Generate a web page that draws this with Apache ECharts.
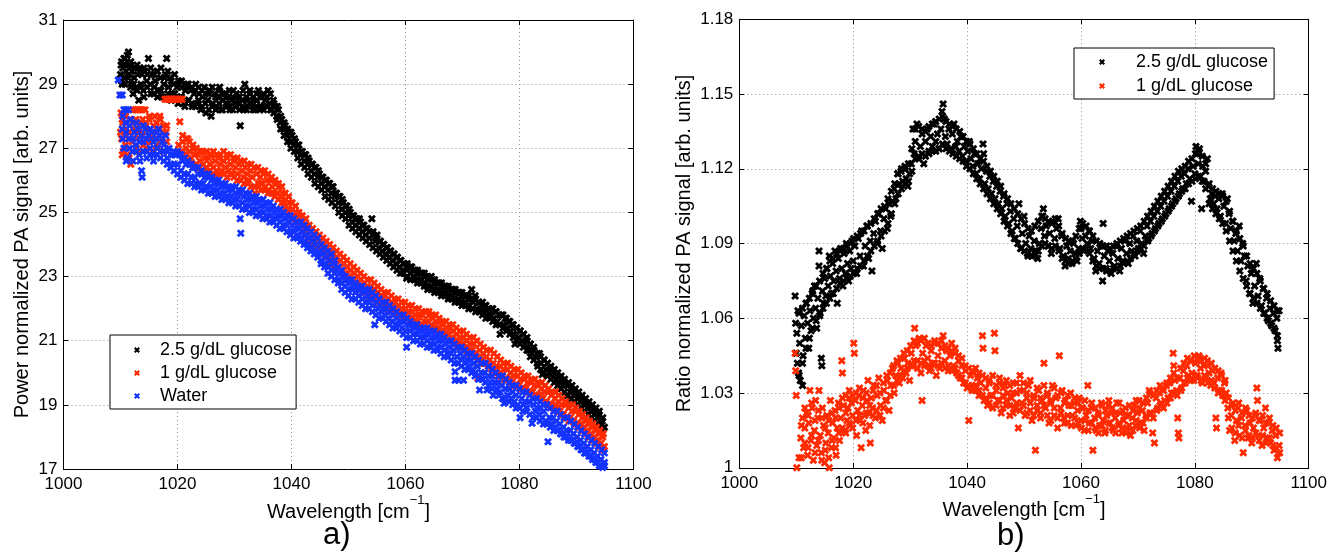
<!DOCTYPE html>
<html>
<head>
<meta charset="utf-8">
<script src="https://cdn.jsdelivr.net/npm/echarts@6/dist/echarts.min.js"></script>
<style>html,body{margin:0;padding:0;background:#fff}#c{width:1330px;height:555px}</style>
</head>
<body>
<div id="c"></div>
<script>
// ---------- data ----------
const seriesNames = ['2.5 g/dL glucose', '1 g/dL glucose', 'Water'];
const xTicksA = [1000, 1020, 1040, 1060, 1080, 1100];
const yTicksA = [17, 19, 21, 23, 25, 27, 29, 31];
const yTicksB = [1, 1.03, 1.06, 1.09, 1.12, 1.15, 1.18];

// panel a) power normalized PA signal, 2.5 g/dL glucose: single readings [x, y]
const powerGlc25 = [[1010.0,29.3],[1010.1,29.6],[1010.3,29.0],[1010.4,29.5],[1010.6,29.8],[1010.7,29.2],[1010.9,29.6],[1011.0,29.4],[1011.2,29.9],[1011.4,30.0],[1011.5,29.3],[1011.7,29.6],[1011.9,29.0],[1012.0,29.4],[1012.2,28.7],[1012.4,29.2],[1012.6,29.5],[1012.8,28.9],[1013.0,29.3],[1013.2,28.5],[1013.4,29.5],[1013.6,29.0],[1013.8,29.3],[1014.0,28.8],[1014.3,29.4],[1014.6,29.1],[1014.9,29.8],[1015.2,29.0],[1015.5,29.3],[1015.8,28.7],[1016.1,29.1],[1016.4,29.4],[1016.7,28.8],[1017.0,29.2],[1017.3,28.6],[1017.6,29.0],[1017.9,29.3],[1018.1,29.8],[1018.4,28.9],[1018.7,29.2],[1019.0,28.7],[1019.3,29.0],[1019.6,28.5],[1019.9,28.9],[1020.2,29.1],[1020.5,28.6],[1020.8,28.9],[1021.1,28.4],[1021.4,28.8],[1021.7,29.0],[1022.0,28.5],[1022.3,28.8],[1022.6,28.3],[1022.9,28.7],[1023.2,29.0],[1023.5,28.4],[1023.8,28.7],[1024.1,28.2],[1024.4,28.6],[1024.7,28.9],[1025.0,28.1],[1025.3,28.5],[1025.6,28.8],[1025.9,28.0],[1026.2,28.4],[1026.5,28.7],[1026.8,28.3],[1027.1,28.6],[1027.4,28.9],[1027.7,28.2],[1028.0,28.5],[1028.3,28.7],[1028.6,28.3],[1028.9,28.6],[1029.2,28.2],[1029.5,28.5],[1029.8,28.8],[1030.1,28.3],[1030.4,28.6],[1030.7,28.4],[1031.0,27.7],[1031.3,28.5],[1031.6,28.2],[1031.8,29.0],[1032.1,28.6],[1032.4,28.3],[1032.7,28.7],[1033.0,28.4],[1033.3,28.6],[1033.6,28.2],[1033.9,28.5],[1034.2,28.8],[1034.5,28.3],[1034.8,28.6],[1035.1,28.2],[1035.4,28.5],[1035.9,28.8],[1036.2,28.4],[1036.5,28.2],[1036.8,28.5],[1037.1,28.3],[1037.4,28.0],[1037.7,28.2],[1038.0,27.8],[1038.3,27.9],[1038.6,27.6],[1038.9,27.7],[1039.2,27.4],[1039.5,27.5],[1039.8,27.2],[1040.1,27.4],[1040.4,27.1],[1040.7,27.2],[1041.0,26.9],[1041.3,27.1],[1041.6,26.8],[1041.9,26.9],[1042.2,26.6],[1042.5,26.8],[1042.8,26.5],[1043.1,26.6],[1043.4,26.3],[1043.7,26.5],[1044.0,26.2],[1044.3,26.4],[1044.6,26.1],[1044.9,26.2],[1045.2,25.9],[1045.5,26.1],[1045.8,25.8],[1046.1,26.0],[1046.4,25.7],[1046.7,25.9],[1047.0,25.6],[1047.3,25.8],[1047.6,25.5],[1047.9,25.6],[1048.2,25.3],[1048.5,25.5],[1048.8,25.1],[1049.1,25.3],[1049.4,25.0],[1049.7,25.2],[1050.0,24.9],[1050.3,25.0],[1050.6,24.7],[1050.9,24.9],[1051.2,24.6],[1051.5,24.8],[1051.8,24.5],[1052.1,24.7],[1052.4,24.4],[1052.7,24.6],[1053.0,24.3],[1053.3,24.5],[1053.6,24.2],[1054.1,24.8],[1054.4,24.3],[1054.7,24.1],[1055.0,24.3],[1055.3,23.9],[1055.6,24.1],[1055.9,23.8],[1056.2,24.0],[1056.5,23.7],[1056.8,23.9],[1057.1,23.6],[1057.4,23.8],[1057.7,23.5],[1058.0,23.7],[1058.3,23.4],[1058.6,23.6],[1058.9,23.3],[1059.2,23.5],[1059.5,23.2],[1059.8,23.4],[1060.2,22.95],[1060.5,23.3],[1060.8,23.1],[1061.1,23.3],[1061.4,23.0],[1061.7,23.2],[1062.0,22.9],[1062.3,23.1],[1062.6,22.9],[1062.9,23.1],[1063.2,22.8],[1063.5,23.0],[1063.8,22.7],[1064.1,22.9],[1064.4,22.7],[1064.7,22.9],[1065.0,22.6],[1065.3,22.8],[1065.6,22.6],[1065.9,22.8],[1066.2,22.5],[1066.5,22.7],[1066.8,22.5],[1067.1,22.7],[1067.4,22.4],[1067.7,22.6],[1068.0,22.4],[1068.3,22.6],[1068.6,22.3],[1068.9,22.5],[1069.2,22.3],[1069.5,22.5],[1069.8,22.2],[1070.1,22.4],[1070.4,22.2],[1070.7,22.4],[1071.0,22.1],[1071.3,22.3],[1071.6,22.6],[1071.9,22.2],[1072.2,22.4],[1072.5,22.0],[1072.8,22.2],[1073.1,21.9],[1073.4,22.1],[1073.7,21.9],[1074.0,22.1],[1074.3,21.8],[1074.6,22.0],[1074.9,21.8],[1075.2,22.0],[1075.5,21.7],[1075.8,21.9],[1076.1,21.6],[1076.6,21.2],[1076.9,21.8],[1077.2,21.5],[1077.5,21.7],[1077.8,21.4],[1078.1,21.6],[1078.4,21.3],[1078.7,21.5],[1079.0,21.2],[1079.2,20.9],[1079.5,21.4],[1079.8,21.1],[1080.1,21.3],[1080.4,21.0],[1080.7,21.2],[1081.0,20.9],[1081.3,21.1],[1081.6,20.7],[1081.9,20.9],[1082.2,20.6],[1082.5,20.8],[1082.8,20.5],[1083.2,20.2],[1083.5,20.6],[1083.8,20.3],[1084.0,19.95],[1084.3,20.4],[1084.6,20.1],[1084.9,20.3],[1085.2,20.0],[1085.5,20.2],[1085.8,19.9],[1086.1,20.1],[1086.4,19.8],[1086.7,20.0],[1087.0,19.7],[1087.3,19.9],[1087.6,19.6],[1087.9,19.8],[1088.3,19.3],[1088.6,19.7],[1088.9,19.4],[1089.2,19.6],[1089.5,19.3],[1089.8,19.5],[1090.1,19.2],[1090.4,19.4],[1090.7,19.1],[1091.0,19.3],[1091.3,19.0],[1091.6,19.2],[1091.9,18.9],[1092.2,19.1],[1092.5,18.8],[1092.8,19.0],[1093.1,18.7],[1093.4,18.9],[1093.7,18.6],[1094.0,18.8],[1094.3,18.4],[1094.6,18.6],[1094.9,18.3]];
// band readings [x, lower, upper] (extra points at the edges of the dense band)
const powerGlc25Band = [[1010.2,29.1,29.7],[1010.8,29.0,29.8],[1011.3,29.2,29.6],[1011.8,28.9,29.7],[1012.3,29.0,29.5],[1012.9,28.8,29.6],[1013.5,28.9,29.4],[1014.1,28.6,29.5],[1014.7,28.9,29.3],[1015.3,28.7,29.5],[1015.9,28.9,29.3],[1016.5,28.6,29.4],[1017.1,28.8,29.5],[1017.7,28.6,29.2],[1018.3,28.7,29.4],[1018.9,28.5,29.1],[1019.5,28.7,29.3],[1020.1,28.4,29.0],[1020.7,28.6,29.1],[1021.3,28.3,28.9],[1021.9,28.5,29.0],[1022.5,28.4,28.9],[1023.1,28.3,28.8],[1023.7,28.5,28.9],[1024.3,28.3,28.8],[1024.9,28.4,28.7],[1025.5,28.2,28.7],[1026.1,28.3,28.9],[1026.7,28.2,28.6],[1027.3,28.4,28.8],[1027.9,28.2,28.7],[1028.5,28.4,28.6],[1029.1,28.3,28.8],[1029.7,28.2,28.6],[1030.3,28.4,28.7],[1030.9,28.2,28.6],[1031.5,28.3,28.8],[1032.1,28.2,28.5],[1032.7,28.4,28.8],[1033.3,28.2,28.5],[1033.9,28.3,28.7],[1034.5,28.2,28.6],[1035.1,28.3,28.7],[1035.7,28.3,28.6],[1036.3,28.2,28.7],[1036.9,28.1,28.4],[1037.5,27.9,28.3],[1038.1,27.6,28.0],[1038.7,27.4,27.8],[1039.3,27.2,27.6],[1039.9,27.0,27.5],[1040.5,26.9,27.3],[1041.1,26.7,27.1],[1041.7,26.5,26.9],[1042.3,26.4,26.8],[1042.9,26.2,26.7],[1043.5,26.1,26.5],[1044.1,25.9,26.4],[1044.7,25.8,26.3],[1045.3,25.7,26.1],[1045.9,25.5,26.0],[1046.5,25.4,25.9],[1047.1,25.3,25.8],[1047.7,25.2,25.6],[1048.3,25.0,25.5],[1048.9,24.9,25.4],[1049.5,24.8,25.2],[1050.1,24.6,25.1],[1050.7,24.5,24.9],[1051.3,24.4,24.8],[1051.9,24.3,24.8],[1052.5,24.2,24.6],[1053.1,24.1,24.5],[1053.7,24.0,24.4],[1054.3,23.9,24.4],[1054.9,23.8,24.2],[1055.5,23.7,24.1],[1056.1,23.6,24.0],[1056.7,23.5,23.9],[1057.3,23.4,23.8],[1057.9,23.3,23.7],[1058.5,23.2,23.6],[1059.1,23.1,23.5],[1059.7,23.1,23.4],[1060.3,23.0,23.4],[1060.9,22.9,23.3],[1061.5,22.9,23.2],[1062.1,22.8,23.2],[1062.7,22.8,23.1],[1063.3,22.7,23.1],[1063.9,22.6,23.0],[1064.5,22.6,23.0],[1065.1,22.5,22.9],[1065.7,22.5,22.8],[1066.3,22.4,22.8],[1066.9,22.4,22.7],[1067.5,22.3,22.7],[1068.1,22.3,22.6],[1068.7,22.2,22.6],[1069.3,22.2,22.5],[1069.9,22.1,22.5],[1070.5,22.1,22.4],[1071.1,22.0,22.4],[1071.7,22.0,22.3],[1072.3,21.9,22.3],[1072.9,21.9,22.2],[1073.5,21.8,22.2],[1074.1,21.7,22.1],[1074.7,21.7,22.0],[1075.3,21.6,22.0],[1075.9,21.5,21.9],[1076.5,21.5,21.8],[1077.1,21.4,21.8],[1077.7,21.3,21.7],[1078.3,21.2,21.6],[1078.9,21.1,21.5],[1079.5,21.0,21.4],[1080.1,20.9,21.3],[1080.7,20.8,21.2],[1081.3,20.7,21.0],[1081.9,20.5,20.9],[1082.5,20.4,20.7],[1083.1,20.3,20.6],[1083.7,20.1,20.5],[1084.3,20.0,20.4],[1084.9,19.9,20.3],[1085.5,19.8,20.1],[1086.1,19.7,20.0],[1086.7,19.6,19.9],[1087.3,19.5,19.8],[1087.9,19.4,19.7],[1088.5,19.3,19.6],[1089.1,19.2,19.5],[1089.7,19.1,19.4],[1090.3,19.0,19.3],[1090.9,18.9,19.2],[1091.5,18.8,19.1],[1092.1,18.7,19.0],[1092.7,18.6,18.9],[1093.3,18.5,18.8],[1093.9,18.3,18.7],[1094.5,18.2,18.5]];

// panel a) 1 g/dL glucose
const powerGlc1 = [[1010.0,27.5],[1010.1,28.1],[1010.2,27.3],[1010.4,27.8],[1010.5,26.9],[1010.7,27.4],[1010.8,27.0],[1011.0,27.6],[1011.2,26.8],[1011.4,27.3],[1011.6,27.9],[1011.8,26.5],[1012.0,27.2],[1012.2,28.2],[1012.4,27.6],[1012.6,28.2],[1012.8,27.0],[1013.0,28.2],[1013.2,27.5],[1013.4,28.2],[1013.6,27.8],[1013.8,28.2],[1014.0,27.1],[1014.3,28.2],[1014.5,27.6],[1014.8,27.2],[1015.0,27.9],[1015.3,27.4],[1015.5,26.9],[1015.8,27.7],[1016.0,28.0],[1016.3,27.3],[1016.5,27.0],[1016.8,27.6],[1017.0,27.9],[1017.3,27.3],[1017.5,27.7],[1017.8,28.53],[1018.0,27.5],[1018.1,28.53],[1018.4,28.53],[1018.7,28.53],[1019.0,28.53],[1019.3,28.53],[1019.6,28.53],[1019.9,28.53],[1020.2,28.53],[1020.5,28.53],[1020.8,28.53],[1020.4,27.83],[1020.2,27.1],[1020.6,26.9],[1020.9,27.2],[1021.2,26.8],[1021.5,27.0],[1021.8,27.3],[1022.1,26.9],[1022.4,26.7],[1022.7,27.0],[1023.0,26.8],[1023.3,26.5],[1023.6,26.8],[1023.9,26.6],[1024.2,26.9],[1024.5,26.5],[1024.8,26.7],[1025.1,26.4],[1025.4,26.7],[1025.7,26.5],[1026.0,26.8],[1026.3,26.4],[1026.6,26.6],[1026.9,26.3],[1027.2,26.7],[1027.5,26.5],[1027.8,26.3],[1028.1,26.6],[1028.4,26.4],[1028.7,26.7],[1029.0,26.3],[1029.3,26.5],[1029.6,26.2],[1029.9,26.6],[1030.2,26.4],[1030.5,26.2],[1030.8,26.5],[1031.0,25.6],[1031.3,26.3],[1031.6,26.1],[1031.9,26.4],[1032.2,26.2],[1032.5,26.0],[1032.8,26.3],[1033.1,26.1],[1033.6,25.6],[1033.9,26.2],[1034.2,25.9],[1034.5,26.1],[1034.8,25.9],[1035.1,26.2],[1035.4,25.8],[1035.7,26.0],[1036.0,25.7],[1036.3,26.0],[1036.6,25.8],[1036.9,25.6],[1037.2,25.9],[1037.5,25.6],[1037.8,25.8],[1038.1,25.5],[1038.4,25.6],[1038.7,25.3],[1039.0,25.4],[1039.3,25.1],[1039.6,25.3],[1039.9,25.0],[1040.2,25.1],[1040.5,24.8],[1040.8,25.0],[1041.1,24.7],[1041.4,24.9],[1041.7,24.6],[1042.0,24.7],[1042.3,24.4],[1042.6,24.6],[1042.9,24.3],[1043.2,24.4],[1043.5,24.2],[1043.8,24.3],[1044.1,24.0],[1044.4,24.2],[1044.7,23.9],[1045.0,24.1],[1045.3,23.8],[1045.6,24.0],[1045.9,23.7],[1046.2,23.9],[1046.5,23.6],[1046.8,23.8],[1047.1,23.5],[1047.4,23.7],[1047.7,23.4],[1048.0,23.6],[1048.3,23.3],[1048.6,23.5],[1048.9,23.2],[1049.2,23.4],[1049.5,23.1],[1049.8,23.3],[1050.1,23.0],[1050.4,23.2],[1050.7,22.9],[1051.0,23.1],[1051.3,22.8],[1051.6,23.0],[1051.9,22.7],[1052.2,22.9],[1052.5,22.6],[1052.8,22.8],[1053.1,22.5],[1053.4,22.7],[1053.7,22.4],[1054.0,22.6],[1054.3,22.4],[1054.6,22.6],[1054.9,22.3],[1055.2,22.5],[1055.5,22.2],[1055.8,22.4],[1056.1,22.2],[1056.4,22.4],[1056.7,22.1],[1057.0,22.3],[1057.3,22.0],[1057.6,22.2],[1057.9,22.0],[1058.2,22.2],[1058.5,21.9],[1058.8,22.1],[1059.1,21.8],[1059.4,22.0],[1059.7,21.8],[1060.0,22.0],[1060.3,21.7],[1060.6,21.9],[1060.9,21.7],[1061.2,21.9],[1061.5,21.6],[1061.8,21.8],[1062.1,21.6],[1062.4,21.8],[1062.7,21.5],[1063.0,21.8],[1063.3,21.6],[1063.6,21.9],[1063.9,21.6],[1064.2,21.8],[1064.5,21.5],[1064.8,21.7],[1065.1,21.4],[1065.4,21.6],[1065.7,21.4],[1066.0,21.6],[1066.3,21.3],[1066.6,21.5],[1066.9,21.2],[1067.2,21.4],[1067.5,21.2],[1067.8,21.4],[1068.1,21.1],[1068.4,21.3],[1068.7,21.0],[1069.0,21.2],[1069.3,20.9],[1069.6,21.1],[1069.9,20.9],[1070.2,21.1],[1070.5,20.8],[1070.8,21.0],[1071.1,20.7],[1071.4,20.9],[1071.7,20.7],[1072.0,20.9],[1072.3,20.6],[1072.7,19.83],[1073.0,20.7],[1073.3,20.4],[1073.6,20.6],[1073.9,20.3],[1074.2,20.5],[1074.5,20.2],[1074.8,20.4],[1075.1,20.1],[1075.4,20.3],[1075.7,20.0],[1076.0,20.2],[1076.3,19.9],[1076.6,20.2],[1076.9,19.9],[1077.2,20.1],[1077.5,19.8],[1077.8,20.1],[1078.1,19.8],[1078.4,20.0],[1078.7,19.7],[1079.0,19.9],[1079.3,19.6],[1079.6,19.9],[1079.9,19.6],[1080.2,19.8],[1080.5,19.5],[1080.8,19.8],[1081.1,19.5],[1081.4,19.7],[1081.7,19.4],[1082.0,19.7],[1082.3,19.4],[1082.6,19.6],[1082.9,19.3],[1083.2,19.6],[1083.5,19.3],[1083.8,19.5],[1084.1,19.2],[1084.4,19.4],[1084.7,19.1],[1085.0,19.4],[1085.3,19.0],[1085.6,19.3],[1085.9,18.9],[1086.2,19.2],[1086.5,18.9],[1086.8,19.1],[1087.1,18.8],[1087.4,19.0],[1087.7,18.7],[1088.0,19.0],[1088.3,18.6],[1088.6,18.9],[1088.9,18.6],[1089.2,18.8],[1089.5,18.5],[1089.8,18.8],[1090.1,18.4],[1090.4,18.7],[1090.7,18.4],[1091.0,18.6],[1091.3,18.3],[1091.6,18.5],[1091.9,18.2],[1092.2,18.4],[1092.5,18.1],[1092.8,18.3],[1093.1,18.0],[1093.4,18.2],[1093.7,17.9],[1094.0,18.1],[1094.3,17.8],[1094.6,18.0],[1094.9,17.7]];
const powerGlc1Band = [[1010.3,26.8,27.9],[1010.9,27.1,28.0],[1011.5,26.7,27.5],[1012.1,26.9,27.8],[1012.7,27.3,27.9],[1013.3,26.9,27.6],[1013.9,27.4,27.9],[1014.5,27.0,27.7],[1015.1,27.2,28.0],[1015.7,26.8,27.5],[1016.3,27.1,27.8],[1016.9,27.4,28.0],[1017.5,26.9,27.5],[1018.1,27.2,27.7],[1020.9,26.8,27.4],[1021.5,26.7,27.3],[1022.1,26.6,27.2],[1022.7,26.5,27.1],[1023.3,26.4,27.0],[1023.9,26.4,26.9],[1024.5,26.3,26.9],[1025.1,26.3,26.9],[1025.7,26.3,26.8],[1026.3,26.2,26.9],[1026.9,26.2,26.8],[1027.5,26.2,26.8],[1028.1,26.2,26.9],[1028.7,26.1,26.8],[1029.3,26.2,26.8],[1029.9,26.1,26.7],[1030.5,26.0,26.7],[1031.1,26.0,26.6],[1031.7,25.9,26.6],[1032.3,25.9,26.5],[1032.9,25.8,26.5],[1033.5,25.8,26.4],[1034.1,25.8,26.4],[1034.7,25.7,26.3],[1035.3,25.7,26.3],[1035.9,25.6,26.2],[1036.5,25.6,26.1],[1037.1,25.5,26.0],[1037.7,25.4,25.9],[1038.3,25.3,25.8],[1038.9,25.1,25.6],[1039.5,25.0,25.5],[1040.1,24.8,25.3],[1040.7,24.7,25.2],[1041.3,24.5,25.0],[1041.9,24.4,24.9],[1042.5,24.3,24.8],[1043.1,24.1,24.6],[1043.7,24.0,24.5],[1044.3,23.9,24.4],[1044.9,23.8,24.3],[1045.5,23.7,24.2],[1046.1,23.6,24.1],[1046.7,23.4,24.0],[1047.3,23.3,23.9],[1047.9,23.2,23.8],[1048.5,23.1,23.7],[1049.1,23.0,23.6],[1049.7,22.9,23.5],[1050.3,22.9,23.4],[1050.9,22.8,23.3],[1051.5,22.7,23.2],[1052.1,22.6,23.1],[1052.7,22.5,23.0],[1053.3,22.4,22.9],[1053.9,22.3,22.9],[1054.5,22.3,22.8],[1055.1,22.2,22.7],[1055.7,22.1,22.6],[1056.3,22.1,22.5],[1056.9,22.0,22.5],[1057.5,21.9,22.4],[1058.1,21.9,22.3],[1058.7,21.8,22.3],[1059.3,21.8,22.2],[1059.9,21.7,22.2],[1060.5,21.7,22.1],[1061.1,21.6,22.1],[1061.7,21.6,22.0],[1062.3,21.5,22.0],[1062.9,21.5,21.9],[1063.5,21.4,21.9],[1064.1,21.4,21.9],[1064.7,21.4,21.8],[1065.3,21.3,21.8],[1065.9,21.3,21.7],[1066.5,21.2,21.6],[1067.1,21.1,21.6],[1067.7,21.0,21.5],[1068.3,21.0,21.5],[1068.9,20.9,21.4],[1069.5,20.8,21.3],[1070.1,20.8,21.3],[1070.7,20.7,21.2],[1071.3,20.6,21.1],[1071.9,20.6,21.1],[1072.5,20.5,21.0],[1073.1,20.4,20.9],[1073.7,20.3,20.8],[1074.3,20.3,20.7],[1074.9,20.2,20.7],[1075.5,20.1,20.6],[1076.1,20.0,20.5],[1076.7,19.9,20.4],[1077.3,19.8,20.3],[1077.9,19.8,20.3],[1078.5,19.7,20.2],[1079.1,19.6,20.1],[1079.7,19.6,20.1],[1080.3,19.5,20.0],[1080.9,19.5,19.9],[1081.5,19.4,19.9],[1082.1,19.4,19.8],[1082.7,19.3,19.8],[1083.3,19.3,19.7],[1083.9,19.2,19.7],[1084.5,19.1,19.6],[1085.1,19.0,19.5],[1085.7,19.0,19.4],[1086.3,18.9,19.4],[1086.9,18.8,19.3],[1087.5,18.7,19.2],[1088.1,18.6,19.1],[1088.7,18.5,19.0],[1089.3,18.5,19.0],[1089.9,18.4,18.9],[1090.5,18.3,18.8],[1091.1,18.2,18.7],[1091.7,18.1,18.6],[1092.3,18.0,18.5],[1092.9,17.9,18.4],[1093.5,17.8,18.3],[1094.1,17.7,18.2],[1094.7,17.6,18.1]];

// panel a) water
const powerWater = [[1009.6,29.13],[1009.9,28.66],[1010.3,28.66],[1010.6,28.2],[1011.0,28.2],[1011.4,28.2],[1010.3,27.6],[1010.6,27.0],[1010.9,27.8],[1011.2,26.7],[1011.5,27.3],[1011.8,27.9],[1012.1,26.9],[1012.4,27.5],[1012.7,27.1],[1013.0,27.6],[1013.3,26.8],[1013.6,27.4],[1013.7,26.3],[1013.8,26.1],[1014.0,27.2],[1014.3,27.6],[1014.6,26.9],[1014.9,27.4],[1015.2,27.0],[1015.5,27.5],[1015.8,26.8],[1016.1,27.3],[1016.4,27.0],[1016.7,27.6],[1017.0,26.7],[1017.3,27.2],[1017.6,26.9],[1017.9,27.4],[1018.2,26.7],[1018.5,27.0],[1018.8,26.5],[1019.1,26.8],[1019.4,26.5],[1019.7,26.8],[1020.0,26.5],[1020.3,26.8],[1020.6,26.3],[1020.9,26.6],[1021.2,26.2],[1021.5,26.5],[1021.8,26.2],[1022.1,26.5],[1022.4,26.1],[1022.7,26.4],[1023.0,26.1],[1023.3,25.9],[1023.6,26.2],[1023.9,25.9],[1024.2,26.2],[1024.5,25.9],[1024.8,26.1],[1025.1,25.8],[1025.4,26.1],[1025.7,25.8],[1026.0,26.0],[1026.3,25.7],[1026.6,25.9],[1026.9,25.7],[1027.2,25.9],[1027.5,25.6],[1027.8,25.8],[1028.1,25.6],[1028.4,25.8],[1028.7,25.5],[1029.0,25.7],[1029.3,25.5],[1029.6,25.7],[1029.9,25.4],[1030.2,25.6],[1030.5,25.4],[1030.8,25.6],[1031.0,24.8],[1031.1,24.35],[1031.4,25.3],[1031.7,25.5],[1032.0,25.2],[1032.3,25.4],[1032.6,25.2],[1032.9,25.4],[1033.2,25.1],[1033.5,25.3],[1033.8,25.1],[1034.1,25.3],[1034.4,25.0],[1034.7,25.2],[1035.0,25.0],[1035.3,25.2],[1035.6,24.9],[1035.9,25.1],[1036.2,24.9],[1036.5,25.1],[1036.8,24.8],[1037.1,25.0],[1037.4,24.8],[1037.7,24.9],[1038.0,24.7],[1038.3,24.9],[1038.6,24.6],[1038.9,24.8],[1039.2,24.6],[1039.5,24.7],[1039.8,24.4],[1040.1,24.6],[1040.4,24.4],[1040.7,24.5],[1041.0,24.3],[1041.3,24.5],[1041.6,24.2],[1041.9,24.4],[1042.2,24.1],[1042.5,24.3],[1042.8,24.0],[1043.1,24.2],[1043.4,23.9],[1043.7,24.1],[1044.0,23.8],[1044.3,24.0],[1044.6,23.7],[1044.9,23.8],[1045.2,23.5],[1045.5,23.7],[1045.8,23.4],[1046.1,23.6],[1046.4,23.3],[1046.7,23.5],[1047.0,23.2],[1047.3,23.4],[1047.6,23.1],[1047.9,23.2],[1048.2,22.9],[1048.5,23.1],[1048.8,22.8],[1049.1,23.0],[1049.4,22.7],[1049.7,22.9],[1050.0,22.6],[1050.3,22.8],[1050.6,22.6],[1050.9,22.7],[1051.2,22.5],[1051.5,22.7],[1051.8,22.4],[1052.1,22.6],[1052.4,22.3],[1052.7,22.5],[1053.0,22.2],[1053.3,22.4],[1053.6,22.2],[1053.9,22.3],[1054.2,22.1],[1054.6,21.5],[1054.9,22.2],[1055.2,22.0],[1055.5,22.1],[1055.8,21.9],[1056.1,22.0],[1056.4,21.8],[1056.7,22.0],[1057.0,21.7],[1057.3,21.9],[1057.6,21.6],[1057.9,21.8],[1058.2,21.5],[1058.5,21.7],[1058.8,21.5],[1059.1,21.6],[1059.4,21.4],[1059.7,21.6],[1060.0,21.3],[1060.2,20.8],[1060.5,21.5],[1060.8,21.3],[1061.1,21.5],[1061.4,21.2],[1061.7,21.4],[1062.0,21.2],[1062.3,21.3],[1062.6,21.1],[1062.9,21.3],[1063.2,21.1],[1063.5,21.2],[1063.8,21.0],[1064.1,21.2],[1064.4,20.9],[1064.7,21.1],[1065.0,20.9],[1065.3,21.1],[1065.6,20.8],[1065.9,21.0],[1066.2,20.8],[1066.5,21.0],[1066.8,20.7],[1067.1,20.9],[1067.4,20.6],[1067.7,20.8],[1068.0,20.6],[1068.4,20.7],[1068.7,20.03],[1068.7,19.77],[1069.3,19.77],[1069.0,20.5],[1069.6,20.6],[1069.9,20.4],[1070.2,19.77],[1070.2,20.5],[1070.5,20.3],[1070.8,20.4],[1071.1,20.2],[1071.4,20.4],[1071.7,20.1],[1072.0,20.3],[1072.3,20.0],[1072.6,20.2],[1073.0,19.46],[1073.3,20.0],[1073.6,19.8],[1073.9,20.0],[1074.3,19.46],[1074.6,19.9],[1074.9,19.7],[1075.2,19.9],[1075.4,19.3],[1075.7,19.7],[1076.0,19.5],[1076.3,19.7],[1076.6,19.4],[1076.9,19.6],[1077.3,19.05],[1077.6,19.5],[1077.9,19.3],[1078.2,19.5],[1078.5,19.2],[1078.8,19.4],[1079.1,19.1],[1079.4,19.3],[1079.7,19.0],[1080.1,18.6],[1080.4,19.2],[1080.7,19.0],[1081.0,19.1],[1081.3,18.9],[1081.6,19.1],[1082.2,18.43],[1082.5,19.0],[1082.8,18.8],[1083.1,18.9],[1083.4,18.7],[1083.7,18.9],[1084.0,18.6],[1084.3,18.8],[1084.6,18.5],[1085.0,17.85],[1085.3,18.6],[1085.6,18.4],[1085.9,18.6],[1086.2,18.3],[1086.5,18.5],[1086.8,18.2],[1087.1,18.4],[1087.4,18.1],[1087.7,18.3],[1088.0,18.0],[1088.3,18.2],[1088.6,17.9],[1088.9,18.2],[1089.2,17.9],[1089.5,18.1],[1089.8,17.8],[1090.1,18.0],[1090.4,17.7],[1090.7,17.9],[1091.0,17.6],[1091.3,17.8],[1091.6,17.5],[1091.9,17.7],[1092.2,17.4],[1092.5,17.6],[1092.8,17.3],[1093.1,17.5],[1093.4,17.2],[1093.7,17.4],[1094.0,17.1],[1094.3,17.3],[1094.6,17.05],[1094.9,17.2]];
const powerWaterBand = [[1010.4,27.3,28.0],[1011.0,26.6,27.5],[1011.6,27.0,27.7],[1012.2,26.6,27.3],[1012.8,26.9,27.8],[1013.4,26.6,27.2],[1014.0,26.9,27.7],[1014.6,26.7,27.3],[1015.2,26.8,27.6],[1015.8,26.6,27.2],[1016.4,26.8,27.5],[1017.0,26.9,27.4],[1017.6,26.6,27.1],[1018.2,26.5,26.9],[1018.8,26.4,26.8],[1019.4,26.3,26.9],[1020.0,26.2,26.9],[1020.6,26.1,26.8],[1021.2,26.0,26.7],[1021.8,25.9,26.6],[1022.4,25.9,26.5],[1023.0,25.8,26.4],[1023.6,25.8,26.4],[1024.2,25.7,26.3],[1024.8,25.7,26.2],[1025.4,25.6,26.2],[1026.0,25.6,26.1],[1026.6,25.5,26.0],[1027.2,25.5,26.0],[1027.8,25.4,25.9],[1028.4,25.4,25.9],[1029.0,25.3,25.8],[1029.6,25.3,25.8],[1030.2,25.2,25.8],[1030.8,25.2,25.7],[1031.4,25.1,25.7],[1032.0,25.1,25.6],[1032.6,25.0,25.6],[1033.2,25.0,25.5],[1033.8,24.9,25.5],[1034.4,24.9,25.4],[1035.0,24.8,25.4],[1035.6,24.8,25.3],[1036.2,24.7,25.3],[1036.8,24.7,25.2],[1037.4,24.6,25.1],[1038.0,24.5,25.1],[1038.6,24.5,25.0],[1039.2,24.4,24.9],[1039.8,24.3,24.9],[1040.4,24.2,24.8],[1041.0,24.2,24.7],[1041.6,24.1,24.7],[1042.2,24.0,24.6],[1042.8,23.9,24.5],[1043.4,23.8,24.4],[1044.0,23.7,24.3],[1044.6,23.6,24.2],[1045.2,23.4,24.0],[1045.8,23.3,23.9],[1046.4,23.1,23.8],[1047.0,23.0,23.7],[1047.6,22.9,23.5],[1048.2,22.8,23.3],[1048.8,22.6,23.2],[1049.4,22.5,23.0],[1050.0,22.4,22.9],[1050.6,22.3,22.9],[1051.2,22.3,22.8],[1051.8,22.2,22.7],[1052.4,22.1,22.7],[1053.0,22.0,22.6],[1053.6,22.0,22.6],[1054.2,21.9,22.5],[1054.8,21.8,22.4],[1055.4,21.7,22.3],[1056.0,21.7,22.2],[1056.6,21.6,22.2],[1057.2,21.5,22.1],[1057.8,21.4,22.0],[1058.4,21.4,21.9],[1059.0,21.3,21.8],[1059.6,21.2,21.8],[1060.2,21.1,21.7],[1060.8,21.1,21.6],[1061.4,21.0,21.5],[1062.0,21.0,21.5],[1062.6,20.9,21.4],[1063.2,20.9,21.4],[1063.8,20.8,21.4],[1064.4,20.8,21.3],[1065.0,20.7,21.3],[1065.6,20.7,21.2],[1066.2,20.6,21.2],[1066.8,20.5,21.1],[1067.4,20.5,21.0],[1068.0,20.4,21.0],[1068.6,20.3,20.9],[1069.2,20.3,20.8],[1069.8,20.2,20.8],[1070.4,20.1,20.7],[1071.0,20.1,20.6],[1071.6,20.0,20.6],[1072.2,19.9,20.5],[1072.8,19.8,20.4],[1073.4,19.8,20.3],[1074.0,19.7,20.3],[1074.6,19.6,20.2],[1075.2,19.5,20.1],[1075.8,19.4,20.0],[1076.4,19.3,19.9],[1077.0,19.2,19.9],[1077.6,19.2,19.8],[1078.2,19.1,19.7],[1078.8,19.0,19.6],[1079.4,18.9,19.6],[1080.0,18.9,19.5],[1080.6,18.8,19.4],[1081.2,18.8,19.4],[1081.8,18.7,19.3],[1082.4,18.6,19.2],[1083.0,18.6,19.2],[1083.6,18.5,19.1],[1084.2,18.4,19.0],[1084.8,18.4,19.0],[1085.4,18.3,18.9],[1086.0,18.2,18.8],[1086.6,18.2,18.8],[1087.2,18.1,18.7],[1087.8,18.0,18.6],[1088.4,18.0,18.6],[1089.0,17.9,18.5],[1089.6,17.8,18.4],[1090.2,17.7,18.3],[1090.8,17.6,18.2],[1091.4,17.5,18.1],[1092.0,17.5,18.0],[1092.6,17.4,17.9],[1093.2,17.3,17.8],[1093.8,17.2,17.7],[1094.4,17.1,17.6],[1094.9,17.1,17.5]];

// panel b) ratio normalized PA signal, 2.5 g/dL glucose
const ratioGlc25 = [[1009.8,1.069],[1009.9,1.058],[1010.0,1.046],[1010.1,1.054],[1010.2,1.042],[1010.3,1.063],[1010.4,1.038],[1010.6,1.050],[1010.7,1.035],[1010.9,1.057],[1011.1,1.033],[1011.2,1.045],[1011.4,1.061],[1011.6,1.052],[1011.8,1.066],[1012.0,1.058],[1012.2,1.048],[1012.4,1.063],[1012.6,1.055],[1012.8,1.070],[1013.0,1.060],[1013.2,1.073],[1013.4,1.064],[1013.6,1.056],[1013.8,1.068],[1014.0,1.087],[1014.0,1.081],[1014.2,1.062],[1014.4,1.044],[1014.5,1.041],[1014.6,1.071],[1014.8,1.066],[1015.0,1.076],[1015.2,1.069],[1015.4,1.080],[1015.6,1.073],[1015.8,1.085],[1016.0,1.077],[1016.2,1.070],[1016.4,1.082],[1016.6,1.075],[1016.8,1.087],[1017.0,1.079],[1017.2,1.066],[1017.4,1.084],[1017.6,1.076],[1017.8,1.088],[1018.0,1.080],[1018.2,1.073],[1018.4,1.086],[1018.6,1.078],[1018.8,1.090],[1019.0,1.082],[1019.2,1.075],[1019.4,1.087],[1019.6,1.080],[1019.8,1.091],[1020.0,1.083],[1020.3,1.089],[1020.6,1.078],[1020.9,1.092],[1021.2,1.085],[1021.5,1.095],[1021.8,1.081],[1022.1,1.089],[1022.4,1.097],[1022.7,1.084],[1023.0,1.091],[1023.3,1.079],[1023.6,1.094],[1023.9,1.099],[1024.2,1.090],[1024.5,1.102],[1024.8,1.095],[1025.1,1.088],[1025.4,1.100],[1025.7,1.104],[1026.0,1.096],[1026.3,1.106],[1026.6,1.101],[1026.9,1.107],[1027.2,1.112],[1027.5,1.108],[1027.8,1.118],[1028.1,1.114],[1028.4,1.119],[1028.7,1.115],[1029.0,1.120],[1029.3,1.116],[1029.6,1.113],[1029.9,1.118],[1030.2,1.122],[1030.5,1.136],[1030.7,1.126],[1030.9,1.131],[1031.2,1.138],[1031.5,1.124],[1031.8,1.129],[1032.1,1.134],[1032.4,1.122],[1032.7,1.131],[1033.0,1.136],[1033.3,1.127],[1033.6,1.133],[1033.9,1.129],[1034.2,1.138],[1034.5,1.131],[1034.8,1.134],[1035.1,1.128],[1035.4,1.136],[1035.6,1.143],[1035.8,1.146],[1036.0,1.140],[1036.2,1.133],[1036.5,1.130],[1036.8,1.136],[1037.1,1.128],[1037.4,1.134],[1037.7,1.138],[1038.0,1.129],[1038.3,1.131],[1038.6,1.127],[1038.9,1.133],[1039.2,1.125],[1039.5,1.129],[1039.8,1.123],[1040.1,1.127],[1040.4,1.131],[1040.7,1.124],[1041.0,1.121],[1041.3,1.126],[1041.6,1.118],[1041.9,1.122],[1042.2,1.116],[1042.5,1.120],[1042.8,1.130],[1042.9,1.126],[1043.1,1.114],[1043.4,1.119],[1043.7,1.112],[1044.0,1.117],[1044.3,1.110],[1044.6,1.115],[1044.9,1.108],[1045.2,1.113],[1045.5,1.106],[1045.8,1.111],[1046.1,1.104],[1046.4,1.109],[1046.7,1.101],[1047.0,1.106],[1047.3,1.098],[1047.6,1.103],[1047.9,1.095],[1048.2,1.100],[1048.5,1.092],[1048.8,1.097],[1049.1,1.106],[1049.4,1.088],[1049.7,1.094],[1050.0,1.101],[1050.3,1.090],[1050.6,1.086],[1050.9,1.093],[1051.2,1.088],[1051.5,1.085],[1051.8,1.091],[1052.1,1.087],[1052.4,1.084],[1052.7,1.090],[1053.0,1.096],[1053.3,1.101],[1053.4,1.104],[1053.6,1.093],[1053.9,1.097],[1054.2,1.089],[1054.5,1.094],[1054.8,1.086],[1055.1,1.099],[1055.4,1.092],[1055.7,1.096],[1056.0,1.100],[1056.3,1.088],[1056.6,1.093],[1056.9,1.085],[1057.2,1.081],[1057.5,1.089],[1057.8,1.084],[1058.1,1.087],[1058.4,1.082],[1058.7,1.090],[1059.0,1.086],[1059.3,1.083],[1059.6,1.088],[1059.9,1.099],[1060.0,1.096],[1060.2,1.092],[1060.5,1.087],[1060.8,1.093],[1061.1,1.090],[1061.4,1.095],[1061.7,1.088],[1062.0,1.091],[1062.3,1.084],[1062.6,1.079],[1062.9,1.087],[1063.2,1.082],[1063.5,1.089],[1063.8,1.075],[1063.9,1.098],[1064.1,1.085],[1064.4,1.080],[1064.7,1.087],[1065.0,1.083],[1065.3,1.078],[1065.6,1.086],[1065.9,1.081],[1066.2,1.089],[1066.5,1.084],[1066.8,1.079],[1067.1,1.088],[1067.4,1.083],[1067.7,1.091],[1068.0,1.086],[1068.3,1.082],[1068.6,1.090],[1068.9,1.087],[1069.2,1.093],[1069.5,1.085],[1069.8,1.091],[1070.1,1.088],[1070.4,1.095],[1070.7,1.090],[1071.0,1.086],[1071.3,1.093],[1071.6,1.097],[1071.9,1.092],[1072.2,1.099],[1072.5,1.094],[1072.8,1.101],[1073.1,1.096],[1073.4,1.103],[1073.7,1.098],[1074.0,1.105],[1074.3,1.100],[1074.6,1.107],[1074.9,1.102],[1075.2,1.109],[1075.5,1.104],[1075.8,1.111],[1076.1,1.106],[1076.4,1.113],[1076.7,1.108],[1077.0,1.115],[1077.3,1.110],[1077.6,1.117],[1077.9,1.112],[1078.2,1.118],[1078.5,1.114],[1078.8,1.120],[1079.1,1.116],[1079.4,1.107],[1079.7,1.121],[1080.0,1.118],[1080.2,1.129],[1080.4,1.126],[1080.6,1.122],[1080.8,1.128],[1081.0,1.117],[1081.2,1.104],[1081.4,1.121],[1081.6,1.115],[1081.9,1.119],[1082.2,1.124],[1082.4,1.113],[1082.7,1.108],[1083.0,1.110],[1083.3,1.106],[1083.6,1.109],[1083.9,1.104],[1084.2,1.108],[1084.5,1.101],[1084.8,1.110],[1085.1,1.105],[1085.4,1.098],[1085.7,1.108],[1086.0,1.102],[1086.3,1.096],[1086.6,1.099],[1086.9,1.091],[1087.2,1.094],[1087.5,1.087],[1087.8,1.097],[1088.1,1.083],[1088.4,1.090],[1088.7,1.085],[1089.0,1.075],[1089.3,1.081],[1089.6,1.070],[1089.9,1.078],[1090.2,1.066],[1090.5,1.073],[1090.8,1.082],[1091.1,1.069],[1091.4,1.076],[1091.7,1.065],[1092.0,1.072],[1092.3,1.062],[1092.6,1.068],[1092.9,1.059],[1093.2,1.064],[1093.5,1.057],[1093.8,1.062],[1094.1,1.055],[1094.4,1.060],[1094.5,1.051],[1094.6,1.048],[1094.8,1.063]];
const ratioGlc25Band = [[1010.5,1.037,1.062],[1011.1,1.042,1.064],[1011.7,1.048,1.066],[1012.3,1.052,1.068],[1012.9,1.056,1.071],[1013.5,1.059,1.073],[1014.1,1.061,1.075],[1014.7,1.064,1.078],[1015.3,1.066,1.080],[1015.9,1.068,1.083],[1016.5,1.070,1.084],[1017.1,1.072,1.086],[1017.7,1.074,1.087],[1018.3,1.075,1.088],[1018.9,1.076,1.089],[1019.5,1.077,1.090],[1020.1,1.078,1.092],[1020.7,1.080,1.093],[1021.3,1.081,1.094],[1021.9,1.083,1.095],[1022.5,1.085,1.097],[1023.1,1.087,1.098],[1023.7,1.089,1.100],[1024.3,1.091,1.102],[1024.9,1.093,1.104],[1025.5,1.095,1.105],[1026.1,1.098,1.108],[1026.7,1.102,1.111],[1027.3,1.106,1.114],[1027.9,1.110,1.118],[1028.5,1.112,1.120],[1029.1,1.114,1.121],[1029.7,1.115,1.122],[1030.3,1.119,1.128],[1030.9,1.124,1.136],[1031.5,1.125,1.137],[1032.1,1.126,1.136],[1032.7,1.125,1.135],[1033.3,1.126,1.137],[1033.9,1.127,1.138],[1034.5,1.127,1.139],[1035.1,1.128,1.140],[1035.7,1.130,1.141],[1036.3,1.128,1.139],[1036.9,1.127,1.138],[1037.5,1.126,1.137],[1038.1,1.125,1.136],[1038.7,1.124,1.135],[1039.3,1.123,1.133],[1039.9,1.121,1.131],[1040.5,1.120,1.130],[1041.1,1.118,1.128],[1041.7,1.116,1.126],[1042.3,1.114,1.124],[1042.9,1.112,1.123],[1043.5,1.110,1.121],[1044.1,1.108,1.119],[1044.7,1.106,1.117],[1045.3,1.104,1.115],[1045.9,1.102,1.113],[1046.5,1.099,1.110],[1047.1,1.097,1.108],[1047.7,1.094,1.106],[1048.3,1.092,1.104],[1048.9,1.090,1.102],[1049.5,1.088,1.100],[1050.1,1.087,1.098],[1050.7,1.085,1.096],[1051.3,1.085,1.095],[1051.9,1.086,1.097],[1052.5,1.087,1.099],[1053.1,1.089,1.101],[1053.7,1.090,1.100],[1054.3,1.089,1.099],[1054.9,1.088,1.098],[1055.5,1.089,1.100],[1056.1,1.087,1.097],[1056.7,1.084,1.094],[1057.3,1.083,1.092],[1057.9,1.082,1.091],[1058.5,1.083,1.091],[1059.1,1.084,1.093],[1059.7,1.086,1.096],[1060.3,1.088,1.098],[1060.9,1.088,1.097],[1061.5,1.086,1.095],[1062.1,1.083,1.093],[1062.7,1.081,1.091],[1063.3,1.080,1.090],[1063.9,1.080,1.089],[1064.5,1.079,1.089],[1065.1,1.079,1.088],[1065.7,1.080,1.089],[1066.3,1.080,1.090],[1066.9,1.081,1.091],[1067.5,1.082,1.092],[1068.1,1.083,1.093],[1068.7,1.084,1.094],[1069.3,1.086,1.095],[1069.9,1.087,1.096],[1070.5,1.088,1.097],[1071.1,1.089,1.099],[1071.7,1.091,1.101],[1072.3,1.093,1.103],[1072.9,1.095,1.105],[1073.5,1.097,1.107],[1074.1,1.099,1.109],[1074.7,1.101,1.111],[1075.3,1.103,1.113],[1075.9,1.105,1.115],[1076.5,1.107,1.117],[1077.1,1.109,1.119],[1077.7,1.111,1.120],[1078.3,1.112,1.121],[1078.9,1.114,1.123],[1079.5,1.115,1.124],[1080.1,1.116,1.126],[1080.7,1.117,1.127],[1081.3,1.115,1.125],[1081.9,1.112,1.122],[1082.5,1.106,1.114],[1083.1,1.104,1.112],[1083.7,1.102,1.111],[1084.3,1.100,1.110],[1084.9,1.098,1.109],[1085.5,1.095,1.107],[1086.1,1.091,1.103],[1086.7,1.087,1.099],[1087.3,1.083,1.095],[1087.9,1.079,1.092],[1088.5,1.076,1.089],[1089.1,1.073,1.085],[1089.7,1.070,1.082],[1090.3,1.068,1.080],[1090.9,1.066,1.078],[1091.5,1.064,1.075],[1092.1,1.062,1.072],[1092.7,1.060,1.070],[1093.3,1.058,1.067],[1093.9,1.056,1.065],[1094.5,1.053,1.063]];

// panel b) 1 g/dL glucose
const ratioGlc1 = [[1009.8,1.046],[1009.9,1.039],[1010.0,1.029],[1010.1,1.000],[1010.5,1.004],[1010.8,1.012],[1011.1,1.020],[1011.3,1.008],[1011.5,1.016],[1011.8,1.022],[1012.0,1.005],[1012.2,1.018],[1012.4,1.031],[1012.6,1.011],[1012.8,1.024],[1013.0,1.003],[1013.2,1.015],[1013.4,1.027],[1013.6,1.009],[1013.8,1.020],[1014.0,1.031],[1014.2,1.013],[1014.4,1.006],[1014.6,1.024],[1014.8,1.017],[1015.0,1.002],[1015.2,1.010],[1015.4,1.021],[1015.6,1.014],[1015.8,1.000],[1016.0,1.027],[1016.2,1.008],[1016.4,1.018],[1016.6,1.012],[1016.8,1.023],[1017.0,1.005],[1017.2,1.016],[1017.4,1.026],[1017.6,1.011],[1017.8,1.020],[1018.0,1.043],[1018.1,1.038],[1018.3,1.025],[1018.5,1.015],[1018.7,1.029],[1018.9,1.019],[1019.1,1.024],[1019.3,1.031],[1019.5,1.017],[1019.7,1.026],[1019.9,1.021],[1020.1,1.050],[1020.2,1.046],[1020.4,1.027],[1020.6,1.013],[1020.8,1.023],[1021.0,1.029],[1021.2,1.019],[1021.4,1.008],[1021.6,1.025],[1021.8,1.031],[1022.0,1.021],[1022.2,1.015],[1022.4,1.027],[1022.6,1.035],[1022.8,1.022],[1023.0,1.010],[1023.2,1.028],[1023.4,1.024],[1023.6,1.033],[1023.9,1.020],[1024.2,1.029],[1024.5,1.036],[1024.8,1.025],[1025.1,1.019],[1025.4,1.031],[1025.7,1.027],[1026.0,1.035],[1026.3,1.023],[1026.6,1.033],[1026.9,1.040],[1027.2,1.030],[1027.5,1.037],[1027.8,1.042],[1028.1,1.034],[1028.4,1.040],[1028.7,1.036],[1029.0,1.044],[1029.3,1.038],[1029.6,1.042],[1029.9,1.035],[1030.2,1.046],[1030.5,1.041],[1030.8,1.056],[1031.0,1.049],[1031.3,1.043],[1031.6,1.052],[1031.9,1.038],[1032.1,1.027],[1032.2,1.046],[1032.5,1.041],[1032.8,1.049],[1033.1,1.044],[1033.4,1.039],[1033.7,1.047],[1034.0,1.042],[1034.3,1.050],[1034.6,1.037],[1034.9,1.045],[1035.2,1.040],[1035.5,1.048],[1035.8,1.053],[1036.1,1.043],[1036.4,1.047],[1036.7,1.039],[1037.0,1.045],[1037.3,1.050],[1037.6,1.041],[1037.9,1.046],[1038.2,1.038],[1038.5,1.043],[1038.8,1.036],[1039.1,1.041],[1039.4,1.034],[1039.7,1.039],[1040.0,1.032],[1040.3,1.019],[1040.6,1.037],[1040.9,1.033],[1041.2,1.038],[1041.5,1.031],[1041.8,1.036],[1042.1,1.029],[1042.4,1.034],[1042.7,1.053],[1042.8,1.048],[1043.0,1.027],[1043.3,1.032],[1043.6,1.025],[1043.9,1.035],[1044.2,1.029],[1044.5,1.024],[1044.8,1.054],[1044.9,1.047],[1045.1,1.031],[1045.4,1.027],[1045.7,1.034],[1046.0,1.022],[1046.3,1.029],[1046.6,1.033],[1046.9,1.025],[1047.2,1.030],[1047.5,1.021],[1047.8,1.028],[1048.1,1.034],[1048.4,1.024],[1048.7,1.030],[1049.0,1.016],[1049.3,1.037],[1049.6,1.026],[1049.9,1.031],[1050.2,1.021],[1050.5,1.028],[1050.8,1.033],[1051.1,1.023],[1051.4,1.019],[1051.7,1.029],[1052.0,1.007],[1052.3,1.025],[1052.6,1.031],[1052.9,1.022],[1053.2,1.027],[1053.5,1.042],[1053.8,1.024],[1054.1,1.030],[1054.4,1.018],[1054.7,1.026],[1055.0,1.033],[1055.3,1.021],[1055.6,1.028],[1055.9,1.016],[1056.2,1.045],[1056.4,1.024],[1056.7,1.031],[1057.0,1.020],[1057.3,1.027],[1057.6,1.018],[1057.9,1.025],[1058.2,1.030],[1058.5,1.021],[1058.8,1.026],[1059.1,1.017],[1059.4,1.023],[1059.7,1.028],[1060.0,1.019],[1060.3,1.024],[1060.6,1.015],[1060.9,1.021],[1061.2,1.033],[1061.5,1.018],[1061.8,1.024],[1062.1,1.007],[1062.4,1.020],[1062.7,1.015],[1063.0,1.022],[1063.3,1.017],[1063.6,1.026],[1063.9,1.019],[1064.2,1.014],[1064.5,1.021],[1064.8,1.025],[1065.1,1.018],[1065.4,1.022],[1065.7,1.015],[1066.0,1.020],[1066.3,1.026],[1066.6,1.017],[1066.9,1.022],[1067.2,1.014],[1067.5,1.019],[1067.8,1.024],[1068.1,1.016],[1068.4,1.021],[1068.7,1.013],[1069.0,1.020],[1069.3,1.025],[1069.6,1.017],[1069.9,1.022],[1070.2,1.027],[1070.5,1.018],[1070.8,1.023],[1071.1,1.015],[1071.4,1.021],[1071.7,1.026],[1072.0,1.031],[1072.3,1.022],[1072.6,1.014],[1072.9,1.010],[1073.2,1.028],[1073.5,1.024],[1073.8,1.030],[1074.1,1.026],[1074.4,1.032],[1074.7,1.027],[1075.0,1.033],[1075.3,1.028],[1075.6,1.034],[1075.9,1.030],[1076.2,1.046],[1076.3,1.041],[1076.5,1.035],[1076.8,1.031],[1077.0,1.020],[1077.1,1.014],[1077.2,1.012],[1077.4,1.036],[1077.7,1.032],[1078.0,1.039],[1078.3,1.034],[1078.6,1.041],[1078.9,1.037],[1079.2,1.043],[1079.5,1.038],[1079.8,1.035],[1080.1,1.042],[1080.4,1.037],[1080.7,1.045],[1081.0,1.040],[1081.3,1.034],[1081.6,1.041],[1081.9,1.036],[1082.2,1.043],[1082.5,1.038],[1082.8,1.033],[1083.1,1.039],[1083.4,1.034],[1083.7,1.020],[1083.8,1.016],[1084.0,1.036],[1084.3,1.031],[1084.6,1.038],[1084.9,1.029],[1085.2,1.034],[1085.5,1.030],[1085.8,1.024],[1086.1,1.015],[1086.4,1.021],[1086.7,1.026],[1087.0,1.011],[1087.3,1.019],[1087.6,1.024],[1087.9,1.013],[1088.2,1.020],[1088.5,1.006],[1088.8,1.017],[1089.1,1.023],[1089.4,1.012],[1089.7,1.018],[1090.0,1.010],[1090.3,1.016],[1090.6,1.021],[1090.9,1.032],[1091.0,1.027],[1091.2,1.013],[1091.5,1.019],[1091.8,1.009],[1092.1,1.016],[1092.4,1.024],[1092.7,1.012],[1093.0,1.018],[1093.3,1.010],[1093.6,1.015],[1093.9,1.007],[1094.2,1.013],[1094.5,1.004],[1094.8,1.009]];
const ratioGlc1Band = [[1010.9,1.004,1.017],[1011.5,1.010,1.024],[1012.1,1.008,1.021],[1012.7,1.013,1.026],[1013.3,1.006,1.019],[1013.9,1.011,1.023],[1014.5,1.003,1.020],[1015.1,1.007,1.016],[1015.7,1.004,1.019],[1016.3,1.011,1.022],[1016.9,1.008,1.020],[1017.5,1.014,1.024],[1018.1,1.016,1.028],[1018.7,1.014,1.022],[1019.3,1.018,1.028],[1019.9,1.016,1.029],[1020.5,1.019,1.030],[1021.1,1.021,1.032],[1021.7,1.018,1.028],[1022.3,1.022,1.030],[1022.9,1.017,1.025],[1023.5,1.021,1.031],[1024.1,1.023,1.033],[1024.7,1.021,1.030],[1025.3,1.024,1.034],[1025.9,1.027,1.037],[1026.5,1.029,1.038],[1027.1,1.033,1.041],[1027.7,1.035,1.043],[1028.3,1.037,1.044],[1028.9,1.039,1.046],[1029.5,1.040,1.047],[1030.1,1.041,1.049],[1030.7,1.043,1.051],[1031.3,1.040,1.050],[1031.9,1.042,1.051],[1032.5,1.043,1.052],[1033.1,1.041,1.050],[1033.7,1.040,1.049],[1034.3,1.042,1.051],[1034.9,1.041,1.050],[1035.5,1.042,1.051],[1036.1,1.040,1.049],[1036.7,1.041,1.048],[1037.3,1.039,1.047],[1037.9,1.040,1.048],[1038.5,1.037,1.045],[1039.1,1.036,1.044],[1039.7,1.034,1.041],[1040.3,1.033,1.040],[1040.9,1.031,1.039],[1041.5,1.033,1.040],[1042.1,1.031,1.038],[1042.7,1.029,1.037],[1043.3,1.028,1.036],[1043.9,1.026,1.034],[1044.5,1.029,1.037],[1045.1,1.025,1.033],[1045.7,1.027,1.036],[1046.3,1.024,1.032],[1046.9,1.027,1.035],[1047.5,1.025,1.033],[1048.1,1.022,1.030],[1048.7,1.026,1.034],[1049.3,1.023,1.031],[1049.9,1.025,1.034],[1050.5,1.022,1.030],[1051.1,1.026,1.035],[1051.7,1.021,1.028],[1052.3,1.023,1.032],[1052.9,1.020,1.028],[1053.5,1.025,1.033],[1054.1,1.021,1.029],[1054.7,1.019,1.027],[1055.3,1.024,1.032],[1055.9,1.020,1.029],[1056.5,1.022,1.030],[1057.1,1.018,1.026],[1057.7,1.021,1.029],[1058.3,1.017,1.025],[1058.9,1.020,1.028],[1059.5,1.018,1.026],[1060.1,1.016,1.024],[1060.7,1.019,1.027],[1061.3,1.015,1.023],[1061.9,1.018,1.026],[1062.5,1.016,1.024],[1063.1,1.014,1.021],[1063.7,1.017,1.025],[1064.3,1.015,1.023],[1064.9,1.018,1.027],[1065.5,1.016,1.024],[1066.1,1.014,1.022],[1066.7,1.018,1.026],[1067.3,1.016,1.023],[1067.9,1.014,1.021],[1068.5,1.017,1.025],[1069.1,1.015,1.023],[1069.7,1.019,1.027],[1070.3,1.016,1.024],[1070.9,1.018,1.026],[1071.5,1.020,1.028],[1072.1,1.022,1.030],[1072.7,1.020,1.029],[1073.3,1.023,1.031],[1073.9,1.025,1.033],[1074.5,1.024,1.031],[1075.1,1.026,1.034],[1075.7,1.028,1.036],[1076.3,1.030,1.038],[1076.9,1.029,1.036],[1077.5,1.031,1.040],[1078.1,1.034,1.042],[1078.7,1.036,1.044],[1079.3,1.035,1.043],[1079.9,1.037,1.045],[1080.5,1.036,1.044],[1081.1,1.035,1.043],[1081.7,1.037,1.044],[1082.3,1.034,1.041],[1082.9,1.035,1.042],[1083.5,1.032,1.040],[1084.1,1.030,1.039],[1084.7,1.031,1.037],[1085.3,1.027,1.035],[1085.9,1.020,1.028],[1086.5,1.016,1.025],[1087.1,1.014,1.023],[1087.7,1.017,1.026],[1088.3,1.012,1.022],[1088.9,1.015,1.024],[1089.5,1.013,1.021],[1090.1,1.012,1.020],[1090.7,1.014,1.022],[1091.3,1.011,1.019],[1091.9,1.013,1.021],[1092.5,1.010,1.018],[1093.1,1.012,1.020],[1093.7,1.009,1.017],[1094.3,1.008,1.016],[1094.9,1.006,1.014]];

// ---------- styling ----------
const FONT = '"Liberation Sans", Arial, Helvetica, sans-serif';
const COLORS = ['#000000', '#ff2a00', '#1433ff'];
const XMARK = 'path://M0,2.5 L2.5,0 L5,2.5 L7.5,0 L10,2.5 L7.5,5 L10,7.5 L7.5,10 L5,7.5 L2.5,10 L0,7.5 L2.5,5 Z';
const GRIDS = [
  { left: 63.5, top: 20, width: 570, height: 449 },
  { left: 739.3, top: 19.3, width: 570, height: 448.5 }
];

// single readings plus the two band-edge readings of each band row
function withBand(points, band) {
  const out = points.slice();
  band.forEach(r => { out.push([r[0], r[1]]); out.push([r[0], r[2]]); });
  return out;
}

function xAxes(gi) {
  const base = {
    gridIndex: gi, type: 'value', min: xTicksA[0], max: xTicksA[xTicksA.length - 1],
    interval: xTicksA[1] - xTicksA[0],
    axisLine: { show: true, onZero: false, lineStyle: { color: '#000', width: 1 } },
    axisTick: { show: true, inside: true, length: 5, lineStyle: { color: '#000' } }
  };
  return [
    Object.assign({}, base, {
      position: 'bottom',
      axisLabel: { color: '#000', fontSize: 17, fontFamily: FONT, margin: 7, formatter: v => String(v) },
      splitLine: { show: true, lineStyle: { color: '#8a8a8a', width: 1, type: [1, 3] } },
      name: '{n|Wavelength [cm}{sup|−1}{n|]}', nameLocation: 'middle', nameGap: 25,
      nameMoveOverlap: false,
      nameTextStyle: {
        color: '#000', fontSize: 20, fontFamily: FONT,
        rich: {
          n: { fontSize: 20, fontFamily: FONT, color: '#000', lineHeight: 28, verticalAlign: 'bottom' },
          sup: { fontSize: 13, fontFamily: FONT, color: '#000', lineHeight: 13, verticalAlign: 'top' }
        }
      }
    }),
    Object.assign({}, base, { position: 'top', axisLabel: { show: false }, splitLine: { show: false } })
  ];
}
function yAxes(gi, ticks, name, fmt) {
  const base = {
    gridIndex: gi, type: 'value', min: ticks[0], max: ticks[ticks.length - 1],
    interval: +(ticks[1] - ticks[0]).toFixed(4),
    axisLine: { show: true, onZero: false, lineStyle: { color: '#000', width: 1 } },
    axisTick: { show: true, inside: true, length: 5, lineStyle: { color: '#000' } }
  };
  return [
    Object.assign({}, base, {
      position: 'left',
      axisLabel: { color: '#000', fontSize: 17, fontFamily: FONT, margin: 6, formatter: fmt },
      splitLine: { show: true, lineStyle: { color: '#8a8a8a', width: 1, type: [1, 3] } },
      name: name, nameLocation: 'middle', nameRotate: 90, nameGap: gi === 0 ? 31 : 45,
      nameTextStyle: { color: '#000', fontSize: 20, fontFamily: FONT }
    }),
    Object.assign({}, base, { position: 'right', axisLabel: { show: false }, splitLine: { show: false } })
  ];
}
function scatter(name, data, colorIdx, xi, yi) {
  return {
    type: 'scatter', name: name, data: data, xAxisIndex: xi, yAxisIndex: yi,
    symbol: XMARK, symbolSize: 8, itemStyle: { color: COLORS[colorIdx], opacity: 1 },
    emphasis: { disabled: true }, animation: false
  };
}
function legendOpt(names, left, top, padding, gap, textPad) {
  return {
    data: names, orient: 'vertical', left: left, top: top, padding: padding, itemGap: gap,
    itemWidth: 6, itemHeight: 6, align: 'left', selectedMode: false,
    backgroundColor: '#fff', borderColor: '#000', borderWidth: 1, borderRadius: 0,
    formatter: n => '{t|' + n + '}',
    textStyle: {
      color: '#000', fontSize: 18, fontFamily: FONT, lineHeight: 18,
      rich: { t: { fontSize: 18, fontFamily: FONT, color: '#000', lineHeight: 18, padding: [0, 0, 0, textPad] } }
    }
  };
}

const chart = echarts.init(document.getElementById('c'), null, { renderer: 'canvas' });
chart.setOption({
  animation: false,
  backgroundColor: '#fff',
  grid: GRIDS.map(g => Object.assign({ containLabel: false }, g)),
  xAxis: xAxes(0).concat(xAxes(1)),
  yAxis: yAxes(0, yTicksA, 'Power normalized PA signal [arb. units]', v => String(v))
    .concat(yAxes(1, yTicksB, 'Ratio normalized PA signal [arb. units]', v => (Math.abs(v - 1) < 1e-9 ? '1' : v.toFixed(2)))),
  legend: [
    legendOpt(seriesNames, 110, 335, [6, 4, 4, 24], 5, 15),
    legendOpt(seriesNames.slice(0, 2), 1074, 48, [5, 6, 4, 25], 6, 26)
  ],
  series: [
    scatter(seriesNames[0], withBand(powerGlc25, powerGlc25Band), 0, 0, 0),
    scatter(seriesNames[1], withBand(powerGlc1, powerGlc1Band), 1, 0, 0),
    scatter(seriesNames[2], withBand(powerWater, powerWaterBand), 2, 0, 0),
    scatter(seriesNames[0], withBand(ratioGlc25, ratioGlc25Band), 0, 2, 2),
    scatter(seriesNames[1], withBand(ratioGlc1, ratioGlc1Band), 1, 2, 2)
  ],
  graphic: [
    { type: 'text', left: 323, top: 520, style: { text: 'a)', fontSize: 31, fontFamily: FONT, fill: '#000' } },
    { type: 'text', left: 997, top: 521, style: { text: 'b)', fontSize: 31, fontFamily: FONT, fill: '#000' } }
  ]
});
</script>
</body>
</html>
